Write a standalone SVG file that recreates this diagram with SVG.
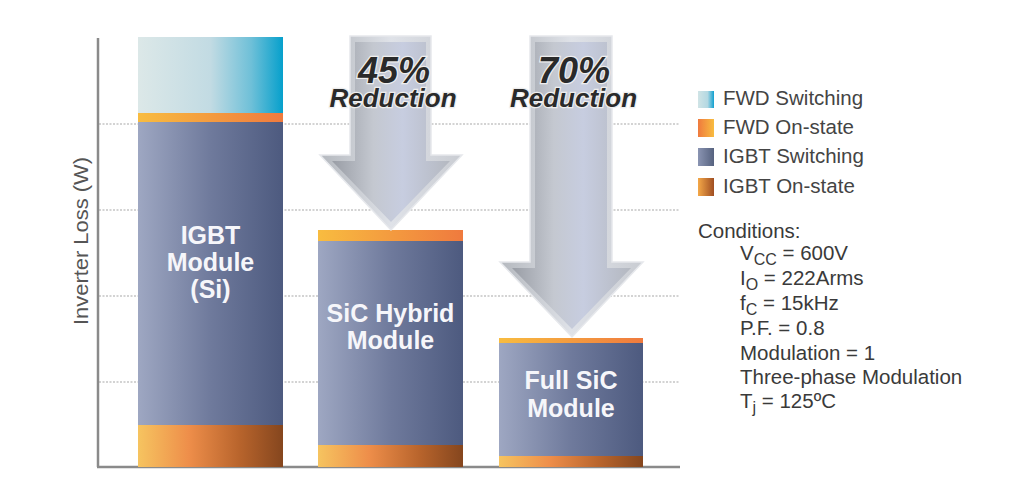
<svg xmlns="http://www.w3.org/2000/svg" width="1024" height="504" viewBox="0 0 1024 504">
  <defs>
    <linearGradient id="gFwdSw" x1="0" y1="0" x2="1" y2="0">
      <stop offset="0" stop-color="#dce8e8"/>
      <stop offset="0.5" stop-color="#c2dbe3"/>
      <stop offset="0.78" stop-color="#6fc0d8"/>
      <stop offset="1" stop-color="#06a0cc"/>
    </linearGradient>
    <linearGradient id="gFwdOn" x1="0" y1="0" x2="1" y2="0">
      <stop offset="0" stop-color="#f8bc40"/>
      <stop offset="1" stop-color="#ef7a3e"/>
    </linearGradient>
    <linearGradient id="gIgbtSw" x1="0" y1="0" x2="1" y2="0">
      <stop offset="0" stop-color="#9ea7c2"/>
      <stop offset="0.5" stop-color="#6f7a9c"/>
      <stop offset="1" stop-color="#4d5a7f"/>
    </linearGradient>
    <linearGradient id="gIgbtOn" x1="0" y1="0" x2="1" y2="0">
      <stop offset="0" stop-color="#f6c460"/>
      <stop offset="0.35" stop-color="#ee8e4a"/>
      <stop offset="0.7" stop-color="#b8642c"/>
      <stop offset="1" stop-color="#85461e"/>
    </linearGradient>
    <linearGradient id="gLegFwdSw" x1="0" y1="0" x2="1" y2="0">
      <stop offset="0" stop-color="#d0e4e6"/>
      <stop offset="0.6" stop-color="#b4d8e2"/>
      <stop offset="1" stop-color="#10a0d0"/>
    </linearGradient>
    <linearGradient id="gLegFwdOn" x1="0" y1="0" x2="1" y2="0">
      <stop offset="0" stop-color="#ef7a3e"/>
      <stop offset="1" stop-color="#f8bc40"/>
    </linearGradient>
    <linearGradient id="gLegIgbtSw" x1="0" y1="0" x2="1" y2="0">
      <stop offset="0" stop-color="#8a94b2"/>
      <stop offset="1" stop-color="#56627f"/>
    </linearGradient>
    <linearGradient id="gLegIgbtOn" x1="0" y1="0" x2="1" y2="0">
      <stop offset="0" stop-color="#f4a848"/>
      <stop offset="1" stop-color="#a04e22"/>
    </linearGradient>
    <linearGradient id="gArrowEdge" x1="0" y1="0" x2="1" y2="0">
      <stop offset="0" stop-color="#b4b8be"/>
      <stop offset="0.5" stop-color="#dfe2e8"/>
      <stop offset="1" stop-color="#c9ccd2"/>
    </linearGradient>
    <linearGradient id="gArrowFace" x1="0" y1="0" x2="1" y2="0">
      <stop offset="0" stop-color="#999da5"/>
      <stop offset="0.35" stop-color="#c4c8d0"/>
      <stop offset="0.6" stop-color="#c7cde0"/>
      <stop offset="1" stop-color="#b4b8c0"/>
    </linearGradient>
  </defs>
  <style>
    .grid { stroke: #a8a8a8; stroke-width: 1.2; stroke-dasharray: 2 1.5; fill: none; }
    .axis { stroke: #8a8a8a; stroke-width: 2.5; fill: none; }
    .barlabel { font-family: "Liberation Sans", Arial, sans-serif; font-size: 25px; font-weight: bold; fill: #f6f6fa; text-anchor: middle; }
    .redtxt { font-family: "Liberation Sans", Arial, sans-serif; font-weight: bold; font-style: italic; fill: #2a2a2a; text-anchor: middle; stroke: #eeeeee; stroke-width: 2.5; paint-order: stroke; }
    .pct { font-size: 36px; }
    .red { font-size: 26px; }
    .leg { font-family: "Liberation Sans", Arial, sans-serif; font-size: 20.5px; fill: #444444; }
    .cond { font-family: "Liberation Sans", Arial, sans-serif; font-size: 20.5px; fill: #3a3a3a; }
    .sub { font-size: 16px; }
    .ylabel { font-family: "Liberation Sans", Arial, sans-serif; font-size: 20px; fill: #555555; text-anchor: middle; }
    .arrowOuter { fill: url(#gArrowEdge); stroke: #e6e8ec; stroke-width: 1.5; }
    .arrowInner { fill: url(#gArrowFace); }
  </style>

  <rect width="1024" height="504" fill="#ffffff"/>

  <!-- grid and axes -->
  <g id="grid">
    <line class="grid" x1="99" y1="124" x2="680" y2="124"/>
    <line class="grid" x1="99" y1="210" x2="680" y2="210"/>
    <line class="grid" x1="99" y1="296" x2="680" y2="296"/>
    <line class="grid" x1="99" y1="382" x2="680" y2="382"/>
  </g>
  <g id="axes">
    <line class="axis" x1="98" y1="38" x2="98" y2="467"/>
    <line class="axis" x1="97" y1="467" x2="680" y2="467"/>
    <text class="ylabel" transform="translate(88,241) rotate(-90)" textLength="168" lengthAdjust="spacingAndGlyphs">Inverter Loss (W)</text>
  </g>

  <!-- bars -->
  <g id="bar-igbt">
    <rect x="138" y="37" width="145" height="77" fill="url(#gFwdSw)"/>
    <rect x="138" y="113" width="145" height="9" fill="url(#gFwdOn)"/>
    <rect x="138" y="122" width="145" height="303" fill="url(#gIgbtSw)"/>
    <rect x="138" y="425" width="145" height="42" fill="url(#gIgbtOn)"/>
    <text class="barlabel" x="210.5" y="244">IGBT</text>
    <text class="barlabel" x="210.5" y="271">Module</text>
    <text class="barlabel" x="210.5" y="298">(Si)</text>
  </g>
  <g id="bar-hybrid">
    <rect x="318" y="230" width="145" height="11" fill="url(#gFwdOn)"/>
    <rect x="318" y="241" width="145" height="204" fill="url(#gIgbtSw)"/>
    <rect x="318" y="445" width="145" height="22" fill="url(#gIgbtOn)"/>
    <text class="barlabel" x="390.5" y="322">SiC Hybrid</text>
    <text class="barlabel" x="390.5" y="349">Module</text>
  </g>
  <g id="bar-fullsic">
    <rect x="499" y="338" width="144" height="5" fill="url(#gFwdOn)"/>
    <rect x="499" y="343" width="144" height="113" fill="url(#gIgbtSw)"/>
    <rect x="499" y="456" width="144" height="11" fill="url(#gIgbtOn)"/>
    <text class="barlabel" x="571" y="389">Full SiC</text>
    <text class="barlabel" x="571" y="417">Module</text>
  </g>

  <!-- reduction arrows -->
  <g id="connectors">
    <g id="arrow-45">
      <polygon class="arrowOuter" points="350,36 431,36 431,155 462,155 391,230 320,155 350,155"/>
      <polygon class="arrowInner" points="355,42 426,42 426,161 450,161 391,222 332,161 355,161"/>
      <text class="redtxt"><tspan class="pct" x="394" y="83">45%</tspan><tspan class="red" x="393" y="107">Reduction</tspan></text>
    </g>
    <g id="arrow-70">
      <polygon class="arrowOuter" points="530,36 612,36 612,262 643,262 572,337 500,262 530,262"/>
      <polygon class="arrowInner" points="535,42 607,42 607,268 631,268 572,329 512,268 535,268"/>
      <text class="redtxt"><tspan class="pct" x="574" y="83">70%</tspan><tspan class="red" x="573.5" y="107">Reduction</tspan></text>
    </g>
  </g>

  <!-- legend -->
  <g id="legend">
    <rect x="698" y="91" width="16" height="17" fill="url(#gLegFwdSw)"/>
    <text class="leg" x="723" y="105">FWD Switching</text>
    <rect x="698" y="119" width="16" height="18" fill="url(#gLegFwdOn)"/>
    <text class="leg" x="723" y="134">FWD On-state</text>
    <rect x="698" y="148" width="16" height="18" fill="url(#gLegIgbtSw)"/>
    <text class="leg" x="723" y="163">IGBT Switching</text>
    <rect x="698" y="178" width="16" height="18" fill="url(#gLegIgbtOn)"/>
    <text class="leg" x="723" y="193">IGBT On-state</text>
  </g>

  <!-- conditions -->
  <g id="conditions">
    <text class="cond" x="698" y="238">Conditions:</text>
    <text class="cond" x="740" y="260">V<tspan class="sub" dy="5">CC</tspan><tspan dy="-5"> = 600V</tspan></text>
    <text class="cond" x="740" y="285">I<tspan class="sub" dy="5">O</tspan><tspan dy="-5"> = 222Arms</tspan></text>
    <text class="cond" x="740" y="310">f<tspan class="sub" dy="5">C</tspan><tspan dy="-5"> = 15kHz</tspan></text>
    <text class="cond" x="740" y="335">P.F. = 0.8</text>
    <text class="cond" x="740" y="360">Modulation = 1</text>
    <text class="cond" x="740" y="384">Three-phase Modulation</text>
    <text class="cond" x="740" y="408">T<tspan class="sub" dy="5">j</tspan><tspan dy="-5"> = 125ºC</tspan></text>
  </g>
</svg>
